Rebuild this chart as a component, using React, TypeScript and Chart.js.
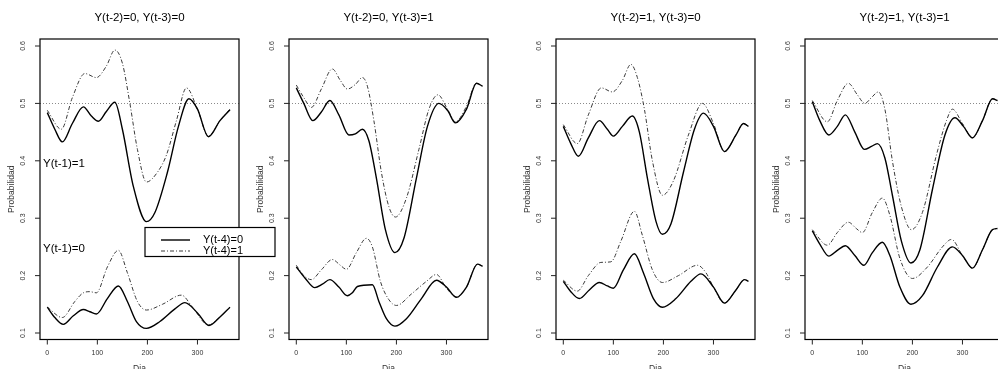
import React, { useEffect, useRef } from "react";
import { Chart, registerables } from "chart.js";

Chart.register(...registerables);

// ---------- text ----------
const PANEL_TITLES = [
  "Y(t-2)=0, Y(t-3)=0",
  "Y(t-2)=0, Y(t-3)=1",
  "Y(t-2)=1, Y(t-3)=0",
  "Y(t-2)=1, Y(t-3)=1",
];
const X_LABEL = "Dia";
const Y_LABEL = "Probabilidad";
const X_TICKS = [0, 100, 200, 300];
const Y_TICKS = [0.1, 0.2, 0.3, 0.4, 0.5, 0.6];
const REF_LEVEL = 0.5;
const LEGEND_LABELS = ["Y(t-4)=0", "Y(t-4)=1"];
const GROUP_LABELS = ["Y(t-1)=1", "Y(t-1)=0"];

// ---------- data: [day, probability] ----------
// Panel 1: Y(t-2)=0, Y(t-3)=0
const P1_U0: [number, number][] = [[0,0.484],[15,0.455],[30,0.433],[50,0.465],[72,0.494],[88,0.478],[102,0.469],[118,0.486],[135,0.502],[150,0.455],[172,0.355],[198,0.294],[215,0.31],[240,0.38],[262,0.46],[283,0.508],[300,0.49],[322,0.442],[345,0.47],[365,0.489]];
const P1_U1: [number, number][] = [[0,0.488],[28,0.455],[50,0.51],[75,0.552],[98,0.545],[118,0.565],[135,0.593],[150,0.57],[165,0.5],[180,0.42],[198,0.363],[220,0.38],[238,0.41],[258,0.47],[278,0.527],[300,0.49],[322,0.443],[345,0.47],[365,0.49]];
const P1_L0: [number, number][] = [[0,0.145],[15,0.127],[32,0.115],[52,0.13],[72,0.141],[85,0.137],[98,0.133],[120,0.16],[142,0.182],[160,0.155],[178,0.12],[198,0.108],[225,0.12],[255,0.142],[275,0.153],[300,0.135],[323,0.113],[345,0.128],[365,0.145]];
const P1_L1: [number, number][] = [[0,0.145],[30,0.127],[55,0.155],[72,0.17],[85,0.172],[98,0.17],[120,0.215],[142,0.244],[160,0.205],[180,0.155],[198,0.14],[230,0.15],[268,0.166],[290,0.145],[322,0.114],[345,0.128],[365,0.145]];

// Panel 2: Y(t-2)=0, Y(t-3)=1
const P2_U0: [number, number][] = [[0,0.527],[15,0.5],[33,0.47],[50,0.485],[67,0.505],[85,0.48],[105,0.445],[118,0.447],[132,0.455],[145,0.435],[160,0.37],[178,0.28],[197,0.24],[215,0.265],[240,0.37],[262,0.46],[285,0.5],[302,0.488],[318,0.466],[340,0.49],[360,0.535],[372,0.53]];
const P2_U1: [number, number][] = [[0,0.532],[15,0.51],[30,0.493],[50,0.525],[72,0.56],[88,0.54],[102,0.525],[118,0.533],[132,0.545],[142,0.53],[155,0.47],[170,0.38],[185,0.32],[198,0.302],[220,0.335],[245,0.42],[265,0.49],[283,0.515],[302,0.49],[318,0.468],[340,0.495],[360,0.535],[372,0.53]];
const P2_L0: [number, number][] = [[0,0.215],[18,0.195],[37,0.179],[52,0.185],[67,0.193],[85,0.18],[102,0.165],[112,0.17],[122,0.181],[152,0.184],[165,0.155],[180,0.125],[197,0.112],[220,0.125],[250,0.16],[280,0.192],[300,0.18],[320,0.162],[340,0.18],[362,0.22],[372,0.216]];
const P2_L1: [number, number][] = [[0,0.218],[15,0.2],[30,0.193],[50,0.21],[72,0.228],[88,0.218],[100,0.211],[120,0.24],[140,0.265],[152,0.25],[168,0.19],[185,0.158],[200,0.148],[230,0.168],[260,0.19],[280,0.202],[300,0.178],[320,0.163],[340,0.18],[362,0.22],[372,0.217]];

// Panel 3: Y(t-2)=1, Y(t-3)=0
const P3_U0: [number, number][] = [[0,0.46],[15,0.43],[30,0.408],[50,0.44],[72,0.47],[88,0.455],[100,0.443],[118,0.46],[138,0.478],[152,0.45],[168,0.37],[185,0.295],[198,0.272],[215,0.29],[240,0.38],[262,0.455],[280,0.483],[300,0.46],[322,0.416],[345,0.445],[360,0.465],[370,0.46]];
const P3_U1: [number, number][] = [[0,0.463],[28,0.43],[50,0.48],[76,0.527],[98,0.52],[118,0.54],[135,0.568],[148,0.545],[162,0.49],[178,0.4],[198,0.34],[220,0.365],[250,0.445],[278,0.5],[300,0.465],[322,0.416],[345,0.445],[360,0.465],[370,0.46]];
const P3_L0: [number, number][] = [[0,0.19],[15,0.172],[32,0.16],[52,0.175],[72,0.188],[88,0.182],[100,0.178],[120,0.21],[142,0.238],[160,0.205],[180,0.16],[198,0.145],[225,0.16],[255,0.19],[275,0.203],[300,0.18],[322,0.152],[345,0.175],[362,0.193],[370,0.19]];
const P3_L1: [number, number][] = [[0,0.192],[28,0.173],[50,0.2],[75,0.223],[95,0.224],[115,0.26],[142,0.312],[158,0.27],[178,0.21],[198,0.188],[230,0.2],[268,0.218],[285,0.205],[300,0.18],[322,0.152],[345,0.175],[362,0.193],[370,0.19]];

// Panel 4: Y(t-2)=1, Y(t-3)=1
const P4_U0: [number, number][] = [[0,0.503],[15,0.47],[33,0.445],[50,0.46],[66,0.48],[85,0.45],[104,0.42],[118,0.425],[130,0.43],[145,0.405],[160,0.34],[178,0.26],[197,0.222],[215,0.245],[240,0.35],[265,0.445],[285,0.475],[302,0.46],[320,0.44],[340,0.47],[360,0.508],[370,0.505]];
const P4_U1: [number, number][] = [[0,0.505],[30,0.468],[50,0.505],[72,0.535],[90,0.515],[105,0.5],[118,0.51],[132,0.52],[145,0.49],[160,0.4],[178,0.32],[198,0.28],[220,0.31],[248,0.41],[268,0.47],[280,0.49],[300,0.465],[320,0.44],[340,0.47],[360,0.508],[370,0.505]];
const P4_L0: [number, number][] = [[0,0.278],[15,0.255],[33,0.234],[50,0.244],[66,0.252],[85,0.235],[103,0.218],[120,0.24],[140,0.258],[155,0.235],[175,0.18],[197,0.15],[220,0.165],[250,0.215],[280,0.25],[300,0.235],[320,0.213],[340,0.245],[360,0.28],[370,0.282]];
const P4_L1: [number, number][] = [[0,0.28],[30,0.253],[50,0.275],[72,0.293],[88,0.282],[100,0.275],[120,0.31],[140,0.335],[155,0.305],[175,0.23],[200,0.195],[230,0.215],[260,0.25],[278,0.263],[300,0.235],[320,0.213],[340,0.245],[360,0.28],[370,0.282]];

// each panel: [upper solid, upper dash-dot, lower solid, lower dash-dot]
const PANEL_SERIES = [
  [P1_U0, P1_U1, P1_L0, P1_L1],
  [P2_U0, P2_U1, P2_L0, P2_L1],
  [P3_U0, P3_U1, P3_L0, P3_L1],
  [P4_U0, P4_U1, P4_L0, P4_L1],
];

// ---------- layout / style ----------
const CANVAS_W = 1010;
const CANVAS_H = 369;
const PANEL_LEFT = [40, 289, 556, 805];
const PLOT_W = 199;
const PLOT_TOP = 39;
const PLOT_BOTTOM = 339.5;
const X_MIN = -14.6;
const X_MAX = 383;
const Y_MIN = 0.0887;
const Y_MAX = 0.6122;
const FONT = "'Liberation Sans', Arial, Helvetica, sans-serif";
const SOLID_COLOR = "#000000";
const DASH_COLOR = "#3a3a3a";
const DASH_PATTERN = [4, 2, 1, 2];

function makeFramePlugin(panel: number) {
  return {
    id: "rframe" + panel,
    beforeDatasetsDraw(chart: any) {
      const { ctx, chartArea } = chart;
      const y = chart.scales.y.getPixelForValue(REF_LEVEL);
      ctx.save();
      ctx.strokeStyle = "#8a8a8a";
      ctx.lineWidth = 1;
      ctx.setLineDash([1, 2]);
      ctx.beginPath();
      ctx.moveTo(chartArea.left, Math.round(y) + 0.5);
      ctx.lineTo(chartArea.right, Math.round(y) + 0.5);
      ctx.stroke();
      ctx.restore();
    },
    afterDatasetsDraw(chart: any) {
      const { ctx, chartArea } = chart;
      const xs = chart.scales.x;
      const ys = chart.scales.y;
      const { left, right, top, bottom } = chartArea;
      ctx.save();
      // box
      ctx.strokeStyle = "#000";
      ctx.lineWidth = 1.2;
      ctx.setLineDash([]);
      ctx.strokeRect(left, top, right - left, bottom - top);

      // x ticks
      ctx.lineWidth = 1;
      ctx.strokeStyle = "#222";
      ctx.fillStyle = "#333";
      ctx.font = `7px ${FONT}`;
      ctx.textAlign = "center";
      ctx.textBaseline = "middle";
      for (const t of X_TICKS) {
        const px = xs.getPixelForValue(t);
        ctx.beginPath();
        ctx.moveTo(px, bottom);
        ctx.lineTo(px, bottom + 5);
        ctx.stroke();
        ctx.fillText(String(t), px, bottom + 14);
      }
      // y ticks (rotated labels)
      for (const t of Y_TICKS) {
        const py = ys.getPixelForValue(t);
        ctx.beginPath();
        ctx.moveTo(left, py);
        ctx.lineTo(left - 5, py);
        ctx.stroke();
        ctx.save();
        ctx.translate(left - 17, py);
        ctx.rotate(-Math.PI / 2);
        ctx.fillText(t.toFixed(1), 0, 0);
        ctx.restore();
      }
      // axis titles
      ctx.font = `8.5px ${FONT}`;
      ctx.fillText(X_LABEL, (left + right) / 2, bottom + 29.5);
      ctx.save();
      ctx.translate(left - 28, (top + bottom) / 2);
      ctx.rotate(-Math.PI / 2);
      ctx.fillText(Y_LABEL, 0, 0);
      ctx.restore();

      // panel title
      ctx.fillStyle = "#000";
      ctx.font = `11.5px ${FONT}`;
      ctx.fillText(PANEL_TITLES[panel], (left + right) / 2, 18);

      if (panel === 0) {
        // group labels
        ctx.textAlign = "left";
        ctx.font = `11.5px ${FONT}`;
        ctx.fillText(GROUP_LABELS[0], left + 3, ys.getPixelForValue(0.395));
        ctx.fillText(GROUP_LABELS[1], left + 3, ys.getPixelForValue(0.246));

        // legend
        const lx = left + 105;
        const ly = 227.5;
        const lw = 130;
        const lh = 29;
        ctx.fillStyle = "#fff";
        ctx.fillRect(lx, ly, lw, lh);
        ctx.strokeStyle = "#000";
        ctx.lineWidth = 1.2;
        ctx.strokeRect(lx, ly, lw, lh);
        const rows = [ly + 12.5, ly + 23.5];
        for (let i = 0; i < 2; i++) {
          ctx.beginPath();
          ctx.strokeStyle = i === 0 ? SOLID_COLOR : DASH_COLOR;
          ctx.lineWidth = i === 0 ? 1.4 : 1;
          ctx.setLineDash(i === 0 ? [] : DASH_PATTERN);
          ctx.moveTo(lx + 16, rows[i]);
          ctx.lineTo(lx + 45, rows[i]);
          ctx.stroke();
          ctx.setLineDash([]);
          ctx.fillStyle = "#000";
          ctx.font = `11px ${FONT}`;
          ctx.textAlign = "left";
          ctx.fillText(LEGEND_LABELS[i], lx + 58, rows[i]);
        }
      }
      ctx.restore();
    },
  };
}

function Panel({ index }: { index: number }) {
  const ref = useRef<HTMLCanvasElement | null>(null);
  useEffect(() => {
    if (!ref.current) return;
    const L = PANEL_LEFT[index];
    const series = PANEL_SERIES[index];
    const datasets = series.map((s, i) => {
      const dashed = i % 2 === 1;
      return {
        label: `${i < 2 ? GROUP_LABELS[0] : GROUP_LABELS[1]} ${LEGEND_LABELS[i % 2]}`,
        data: s.map(([x, y]) => ({ x, y })),
        showLine: true,
        borderColor: dashed ? DASH_COLOR : SOLID_COLOR,
        borderWidth: dashed ? 1 : 1.4,
        borderDash: dashed ? DASH_PATTERN : [],
        pointRadius: 0,
        cubicInterpolationMode: "monotone" as const,
        fill: false,
      };
    });
    const chart = new Chart(ref.current, {
      type: "scatter",
      data: { datasets },
      options: {
        responsive: false,
        animation: false,
        devicePixelRatio: 1,
        layout: {
          padding: {
            left: L,
            right: CANVAS_W - L - PLOT_W,
            top: PLOT_TOP,
            bottom: CANVAS_H - PLOT_BOTTOM,
          },
        },
        scales: {
          x: { type: "linear", min: X_MIN, max: X_MAX, display: false },
          y: { type: "linear", min: Y_MIN, max: Y_MAX, display: false },
        },
        plugins: {
          legend: { display: false },
          tooltip: { enabled: false },
          title: { display: false },
        },
        events: [],
      },
      plugins: [makeFramePlugin(index)],
    } as any);
    return () => chart.destroy();
  }, [index]);
  return (
    <canvas
      ref={ref}
      width={CANVAS_W}
      height={CANVAS_H}
      style={{ position: "absolute", left: 0, top: 0, width: CANVAS_W, height: CANVAS_H }}
    />
  );
}

export default function App() {
  return (
    <div
      style={{
        position: "fixed",
        left: 0,
        top: 0,
        width: 998,
        height: 369,
        overflow: "hidden",
        background: "#ffffff",
      }}
    >
      {[0, 1, 2, 3].map((i) => (
        <Panel key={i} index={i} />
      ))}
    </div>
  );
}
